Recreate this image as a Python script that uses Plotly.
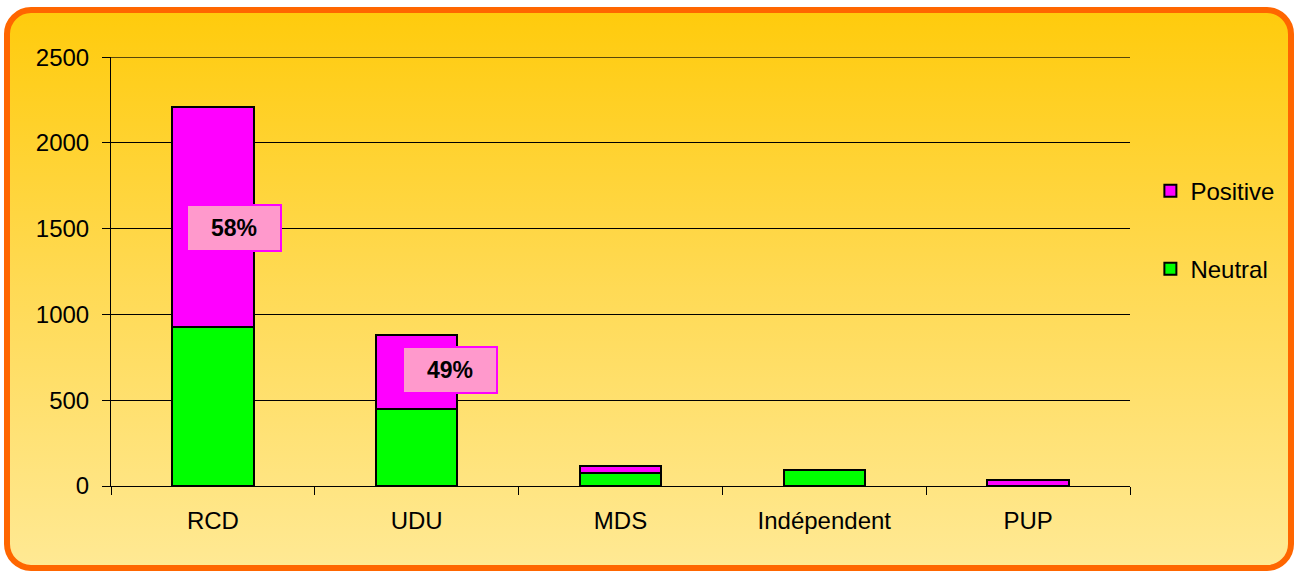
import base64
import plotly.graph_objects as go

categories = ["RCD", "UDU", "MDS", "Indépendent", "PUP"]
neutral = [925, 448, 74, 92, None]
positive = [1285, 430, 42, None, 33]
y_tick_values = [0, 500, 1000, 1500, 2000, 2500]
labelled = ["RCD", "UDU"]
label_y = [1505, 674]
label_shift = [21, 33]

W, H = 1294, 571
L, R, T, B = 111, 164, 57, 85
PW, PH = W - L - R, H - T - B

svg = f'''<svg xmlns="http://www.w3.org/2000/svg" width="{W}" height="{H}" viewBox="0 0 {W} {H}">
<defs><linearGradient id="g" x1="0" y1="0" x2="0" y2="1">
<stop offset="0" stop-color="#FFCB0C"/><stop offset="0.5" stop-color="#FFDA55"/><stop offset="1" stop-color="#FFE994"/></linearGradient></defs>
<rect x="7" y="10" width="1284" height="558" rx="24" ry="24" fill="url(#g)" stroke="#FF6600" stroke-width="6"/>
</svg>'''
src = "data:image/svg+xml;base64," + base64.b64encode(svg.encode()).decode()

FONT = "Arial, Liberation Sans, sans-serif"

fig = go.Figure()
fig.add_trace(go.Bar(x=categories, y=neutral, name="Neutral", legendgroup="Neutral", legendrank=2,
                     marker=dict(color="#00FF00", line=dict(color="black", width=2))))
fig.add_trace(go.Bar(x=categories, y=positive, name="Positive", legendgroup="Positive", legendrank=1,
                     marker=dict(color="#FF00FF", line=dict(color="black", width=2))))

for cat, yy, sh in zip(labelled, label_y, label_shift):
    i = categories.index(cat)
    pct = round(100 * positive[i] / (positive[i] + neutral[i]))
    fig.add_annotation(x=cat, y=yy, xshift=sh, text=f"<b>{pct}%</b>", showarrow=False,
                       font=dict(family=FONT, size=23, color="black"),
                       bgcolor="#FF99CC", bordercolor="#FF00FF", borderwidth=2,
                       width=92, height=44, borderpad=0)

# top gridline (plotly culls the gridline lying on the range edge)
fig.add_shape(type="line", xref="x domain", x0=0, x1=1, yref="y",
              y0=y_tick_values[-1], y1=y_tick_values[-1],
              line=dict(color="black", width=1), layer="below")

fig.update_layout(
    width=W, height=H,
    margin=dict(l=L, r=R, t=T, b=B, pad=0),
    paper_bgcolor="white", plot_bgcolor="rgba(0,0,0,0)",
    barmode="stack", bargap=0.6,
    font=dict(family=FONT, size=24, color="black"),
    showlegend=True,
    legend=dict(x=1.02, y=0.74, xanchor="left", yanchor="top",
                bgcolor="rgba(0,0,0,0)", traceorder="grouped",
                tracegroupgap=44, font=dict(size=24)),
    images=[dict(source=src, xref="paper", yref="paper", x=-L / PW, y=1 + T / PH,
                 sizex=W / PW, sizey=H / PH, xanchor="left", yanchor="top",
                 sizing="stretch", layer="below")],
    xaxis=dict(tickson="boundaries", ticks="outside", ticklen=8, tickcolor="black",
               showline=True, linecolor="black", linewidth=1, showgrid=False,
               ticklabelstandoff=13),
    yaxis=dict(range=[0, 2501], tickvals=y_tick_values, ticks="outside", ticklen=8,
               tickcolor="black", showline=True, linecolor="black", linewidth=1,
               showgrid=True, gridcolor="black", gridwidth=1, zeroline=False,
               ticklabelstandoff=8),
)

fig.write_html("out.html", config={"displayModeBar": False},
               post_script="document.body.style.margin='0';document.body.style.overflow='hidden';")
